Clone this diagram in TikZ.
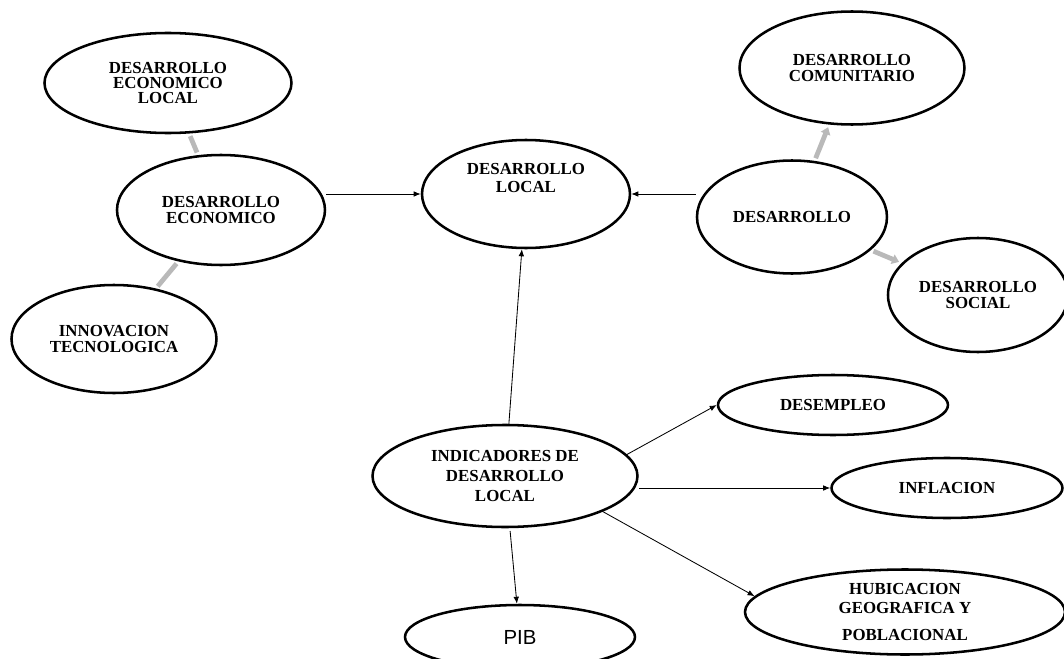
\documentclass[tikz,border=0pt]{standalone}
\usepackage{fontspec}
\setmainfont{Liberation Serif}
\newfontfamily\pibfont{Liberation Sans}
\usetikzlibrary{positioning,shapes.geometric,arrows.meta}

\begin{document}
\begin{tikzpicture}[
	oval/.style={ellipse, draw, line width=1.8pt, inner sep=0pt, align=center, font=\bfseries\fontsize{12}{10.7}\selectfont},
	every label/.style={align=center, font=\bfseries\fontsize{12}{12.8}\selectfont},
	arrow/.style={-{Latex[length=5pt,width=4pt]}, line width=0.6pt},
	link/.style={draw=gray!55, line width=3.4pt, shorten <=2pt, shorten >=2pt},
	grayarrow/.style={link, -{Triangle[length=5pt,width=7pt]}},
	on grid
]
	\useasboundingbox (-13.15,-11.625) rectangle (13.45,4.85);

	% Vertices
	\node[oval, minimum width=5.2cm, minimum height=2.7cm, label={[yshift=0.4cm]center:DESARROLLO\\LOCAL}] (dl) {};
	\node[oval, minimum width=5.2cm, minimum height=2.75cm, below left=0.4cm and 7.625cm of dl] (econ) {DESARROLLO\\ECONOMICO};
	\node[oval, minimum width=6.175cm, minimum height=2.5cm, above left=3.175cm and 1.325cm of econ] (econloc) {DESARROLLO\\ECONOMICO\\LOCAL};
	\node[oval, minimum width=5.125cm, minimum height=2.7cm, below left=3.225cm and 2.675cm of econ] (innov) {INNOVACION\\TECNOLOGICA};
	\node[oval, minimum width=4.75cm, minimum height=2.825cm, below right=0.575cm and 6.65cm of dl] (desa) {DESARROLLO};
	\node[oval, minimum width=5.625cm, minimum height=2.825cm, above right=3.725cm and 1.5cm of desa] (comun) {DESARROLLO\\[1.2pt]COMUNITARIO};
	\node[oval, minimum width=4.5cm, minimum height=2.85cm, below right=1.95cm and 4.65cm of desa] (social) {DESARROLLO\\[1.2pt]SOCIAL};
	\node[oval, minimum width=6.625cm, minimum height=2.55cm, below left=7.05cm and 0.525cm of dl] (indic) {INDICADORES DE\\[3.2pt]DESARROLLO\\[3.2pt]LOCAL};
	\node[oval, minimum width=5.75cm, minimum height=1.5cm, above right=1.775cm and 8.2cm of indic] (desemp) {DESEMPLEO};
	\node[oval, minimum width=5.775cm, minimum height=1.5cm, below right=0.3cm and 11.05cm of indic] (infla) {INFLACION};
	\node[oval, minimum width=8cm, minimum height=2.125cm, below right=3.4cm and 10cm of indic] (hubic) {HUBICACION\\[2.8pt]GEOGRAFICA Y\\[9pt]POBLACIONAL};
	\node[oval, minimum width=5.75cm, minimum height=1.6cm, below right=4.025cm and 0.375cm of indic, font=\pibfont\fontsize{14.5}{16}\selectfont] (pib) {PIB};

	% Edges
	\draw[link] (econloc) -- (econ);
	\draw[link] (econ) -- (innov);
	\draw[grayarrow] (desa) -- (comun);
	\draw[grayarrow] (desa) -- (social);
	\draw[arrow] (econ.east |- dl.west) -- (dl.west);
	\draw[arrow] (desa.west |- dl.east) -- (dl.east);
	\draw[arrow] (indic) -- (dl);
	\draw[arrow, shorten <=2pt] (indic) -- (pib);
	\draw[arrow] (indic.10) -- (desemp.west);
	\draw[arrow] (indic.east |- infla.west) -- (infla.west);
	\draw[arrow] (indic.340) -- (hubic.174);

\end{tikzpicture}
\end{document}
